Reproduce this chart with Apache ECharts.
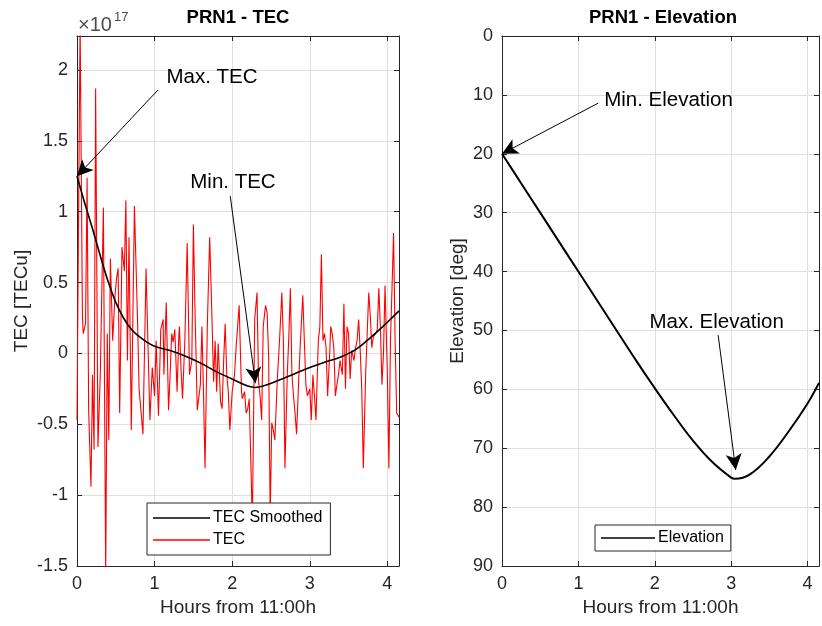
<!DOCTYPE html>
<html>
<head>
<meta charset="utf-8">
<title>PRN1 - TEC / Elevation</title>
<script src="https://cdn.jsdelivr.net/npm/echarts@6/dist/echarts.min.js"></script>
<style>
  html, body { margin: 0; padding: 0; background: #ffffff; }
  #chart { width: 822px; height: 626px; }
</style>
</head>
<body>
<div id="chart"></div>
<script>
// Raw TEC samples (units of 1e17 TECu) against hours from 11:00h
const tecHours = [
  0.00, 0.04, 0.07, 0.08, 0.11, 0.13, 0.15, 0.18, 0.20, 0.22,
  0.24, 0.27, 0.30, 0.34, 0.37, 0.39, 0.41, 0.43, 0.46, 0.49,
  0.51, 0.53, 0.55, 0.58, 0.61, 0.63, 0.65, 0.67, 0.70, 0.74,
  0.78, 0.80, 0.85, 0.89, 0.92, 0.94, 0.97, 1.00, 1.02, 1.05,
  1.08, 1.11, 1.12, 1.15, 1.18, 1.20, 1.22, 1.24, 1.26, 1.29,
  1.31, 1.32, 1.34, 1.36, 1.39, 1.42, 1.45, 1.48, 1.50, 1.52,
  1.55, 1.59, 1.61, 1.63, 1.65, 1.68, 1.71, 1.74, 1.76, 1.78,
  1.80, 1.82, 1.85, 1.87, 1.89, 1.91, 1.93, 1.95, 1.97, 2.00,
  2.03, 2.05, 2.07, 2.09, 2.12, 2.13, 2.16, 2.18, 2.20, 2.22,
  2.24, 2.26, 2.29, 2.32, 2.34, 2.36, 2.38, 2.40, 2.43, 2.45,
  2.47, 2.49, 2.51, 2.53, 2.55, 2.58, 2.61, 2.64, 2.66, 2.68,
  2.71, 2.73, 2.75, 2.77, 2.79, 2.81, 2.83, 2.86, 2.88, 2.91,
  2.93, 2.95, 2.97, 3.00, 3.02, 3.04, 3.06, 3.08, 3.11, 3.13,
  3.15, 3.17, 3.19, 3.21, 3.23, 3.26, 3.27, 3.29, 3.31, 3.33,
  3.35, 3.37, 3.39, 3.42, 3.44, 3.46, 3.48, 3.50, 3.52, 3.54,
  3.57, 3.59, 3.61, 3.63, 3.65, 3.67, 3.69, 3.72, 3.74, 3.76,
  3.78, 3.80, 3.82, 3.85, 3.87, 3.89, 3.91, 3.93, 3.95, 3.97,
  4.00, 4.02, 4.04, 4.06, 4.08, 4.10, 4.12, 4.15
];
const tecValues = [
  -0.47, 2.35, 0.26, 0.14, 0.21, 1.24, -0.40, -0.94, -0.15, -0.68,
  1.87, -0.66, -0.15, 1.03, -1.55, 0.14, -0.61, 0.67, 0.09, 0.41,
  0.53, 0.60, -0.42, 0.75, 0.58, 1.08, -0.05, 0.82, -0.54, 1.04,
  0.24, -0.25, -0.57, 0.60, -0.05, -0.47, -0.10, -0.30, 0.09, -0.44,
  0.17, 0.24, -0.15, 0.36, -0.40, -0.15, 0.14, 0.08, 0.17, -0.27,
  0.09, 0.19, -0.10, -0.32, 0.09, 0.78, -0.15, -0.05, 0.91, 0.33,
  -0.40, -0.22, 0.19, -0.27, -0.81, 0.20, 0.82, 0.24, -0.20, 0.09,
  -0.27, 0.07, -0.34, -0.39, -0.05, 0.21, -0.15, -0.27, -0.54, -0.27,
  -0.15, 0.04, 0.19, 0.34, -0.27, -0.32, -0.27, -0.42, -0.39, -0.32,
  -0.76, -1.20, 0.24, 0.43, -0.20, -0.30, -0.47, 0.19, 0.34, 0.29,
  -0.03, -1.15, -0.49, -0.54, -0.61, -0.20, 0.09, 0.43, 0.09, -0.81,
  -0.15, 0.12, 0.46, -0.15, -0.30, -0.42, -0.57, -0.15, 0.09, 0.41,
  0.09, -0.22, -0.30, -0.25, -0.47, -0.15, -0.30, -0.47, 0.09, 0.19,
  0.70, 0.09, 0.14, 0.04, -0.30, 0.04, 0.19, 0.14, 0.04, -0.30,
  -0.22, -0.15, -0.05, -0.15, 0.35, -0.25, 0.19, 0.14, -0.18, 0.02,
  -0.05, 0.04, 0.09, 0.24, 0.02, -0.25, -0.81, -0.15, 0.14, 0.43,
  0.26, 0.04, 0.12, 0.14, 0.17, 0.46, 0.19, -0.22, 0.00, 0.48,
  -0.15, -0.81, 0.09, 0.46, 0.85, 0.09, -0.42, -0.45
];

// Smoothed TEC (units of 1e17 TECu)
const smoothHours = [0, 0.1, 0.2, 0.3, 0.4, 0.5, 0.6, 0.7, 0.8, 0.9, 1.0, 1.2, 1.4, 1.6,
  1.8, 2.0, 2.2, 2.3, 2.4, 2.6, 2.8, 3.0, 3.2, 3.4, 3.6, 3.8, 4.0, 4.15];
const smoothValues = [1.25, 1.06, 0.88, 0.69, 0.51, 0.36, 0.25, 0.17, 0.12, 0.08, 0.05, 0.02, -0.02, -0.07,
  -0.13, -0.18, -0.23, -0.24, -0.23, -0.19, -0.145, -0.10, -0.06, -0.025, 0.03, 0.12, 0.22, 0.30];

// Satellite elevation (deg)
const elevHours = [0, 0.25, 0.5, 0.75, 1.0, 1.25, 1.5, 1.75, 2.0, 2.25, 2.5, 2.75, 3.0, 3.05,
  3.25, 3.5, 3.75, 4.0, 4.15];
const elevDeg = [20, 25, 30, 35, 40, 45, 50, 55, 59.8, 64.4, 68.7, 72.3, 75.0, 75.2,
  74.4, 71.4, 67.2, 62.4, 58.9];

// Annotations: label text, label anchor, arrow tail and arrow head (data coordinates)
const tecNotes = [
  { text: 'Max. TEC', label: [1.74, 1.95], tail: [1.045, 1.86], head: [0.0, 1.25] },
  { text: 'Min. TEC', label: [2.01, 1.21], tail: [1.975, 1.11], head: [2.30, -0.21] }
];
const elevNotes = [
  { text: 'Min. Elevation', label: [2.18, 10.9], tail: [1.26, 11.4], head: [0.0, 20.0] },
  { text: 'Max. Elevation', label: [2.81, 48.6], tail: [2.83, 50.8], head: [3.06, 73.7] }
];

const FONT = '"Liberation Sans", Arial, Helvetica, sans-serif';
const INK = '#262626';
const GRID_COLOR = '#dfdfdf';

const zip = (xs, ys) => xs.map((x, i) => [x, ys[i]]);

function bottomAxis(gridIndex) {
  return {
    type: 'value', gridIndex, position: 'bottom',
    min: 0, max: 4.15, interval: 1,
    name: 'Hours from 11:00h', nameLocation: 'middle', nameGap: 32,
    nameTextStyle: { fontSize: 19, color: INK, fontFamily: FONT },
    axisLine: { show: true, onZero: false, lineStyle: { color: INK, width: 1 } },
    axisTick: { show: true, inside: true, length: 5, lineStyle: { color: INK } },
    axisLabel: { color: INK, fontSize: 18, fontFamily: FONT, margin: 9,
      formatter: v => (Math.abs(v - Math.round(v)) < 1e-6 ? String(Math.round(v)) : '') },
    splitLine: { show: true, lineStyle: { color: GRID_COLOR, width: 1 } }
  };
}
function topAxis(gridIndex) {
  return {
    type: 'value', gridIndex, position: 'top',
    min: 0, max: 4.15, interval: 1,
    axisLine: { show: true, onZero: false, lineStyle: { color: INK, width: 1 } },
    axisTick: { show: true, inside: true, length: 5, lineStyle: { color: INK } },
    axisLabel: { show: false },
    splitLine: { show: false }
  };
}
function sideAxis(gridIndex, position, extra) {
  return Object.assign({
    type: 'value', gridIndex, position,
    axisLine: { show: true, onZero: false, lineStyle: { color: INK, width: 1 } },
    axisTick: { show: true, inside: true, length: 5, lineStyle: { color: INK } },
    axisLabel: { show: false },
    splitLine: { show: false }
  }, extra);
}

function noteSeries(notes, xIdx, yIdx) {
  return {
    type: 'line', xAxisIndex: xIdx, yAxisIndex: yIdx,
    data: notes.map(n => n.head), symbol: 'none', clip: false,
    lineStyle: { opacity: 0 }, silent: true, z: 5,
    markLine: {
      silent: true, animation: false,
      symbol: ['none', 'arrow'], symbolSize: [12, 16],
      lineStyle: { color: '#000000', width: 1, type: 'solid' },
      label: { show: false },
      emphasis: { disabled: true },
      data: notes.map(n => [{ coord: n.tail }, { coord: n.head }])
    },
    markPoint: {
      silent: true, animation: false,
      symbol: 'rect', symbolSize: 1,
      itemStyle: { color: 'rgba(0,0,0,0)' },
      label: { show: true, position: 'inside', color: '#000000', fontSize: 20.5, fontFamily: FONT,
        formatter: p => p.name },
      data: notes.map(n => ({ name: n.text, coord: n.label }))
    }
  };
}

function legendBox(names, left, top, itemWidth, padding) {
  return {
    data: names.map(n => ({ name: n, icon: 'rect' })),
    left, top, orient: 'vertical',
    itemWidth, itemHeight: 1.6, itemGap: 4,
    padding,
    backgroundColor: '#ffffff', borderColor: INK, borderWidth: 1, borderRadius: 0,
    textStyle: { fontSize: 16, lineHeight: 18, color: '#000000', fontFamily: FONT, padding: [0, 0, 0, -2] },
    selectedMode: false, z: 10
  };
}

const chart = echarts.init(document.getElementById('chart'), null, { renderer: 'canvas' });

chart.setOption({
  animation: false,
  backgroundColor: '#ffffff',
  textStyle: { fontFamily: FONT },
  grid: [
    { left: 77, top: 36, width: 322, height: 530, containLabel: false },
    { left: 502, top: 36, width: 322.5, height: 530, containLabel: false }
  ],
  xAxis: [bottomAxis(0), topAxis(0), bottomAxis(1), topAxis(1)],
  yAxis: [
    sideAxis(0, 'left', {
      min: -1.5, max: 2.24, interval: 0.5,
      name: 'TEC [TECu]', nameLocation: 'middle', nameGap: 46, nameRotate: 90,
      nameTextStyle: { fontSize: 19, color: INK, fontFamily: FONT },
      axisLabel: { show: true, color: INK, fontSize: 18, fontFamily: FONT, margin: 9,
        formatter: v => (Math.abs(v * 2 - Math.round(v * 2)) < 1e-6 ? String(v) : '') },
      splitLine: { show: true, lineStyle: { color: GRID_COLOR, width: 1 } }
    }),
    sideAxis(0, 'right', { min: -1.5, max: 2.24, interval: 0.5 }),
    sideAxis(1, 'left', {
      min: 0, max: 90, interval: 10, inverse: true,
      name: 'Elevation [deg]', nameLocation: 'middle', nameGap: 35, nameRotate: 90,
      nameTextStyle: { fontSize: 19, color: INK, fontFamily: FONT },
      axisLabel: { show: true, color: INK, fontSize: 18, fontFamily: FONT, margin: 9 },
      splitLine: { show: true, lineStyle: { color: GRID_COLOR, width: 1 } }
    }),
    sideAxis(1, 'right', { min: 0, max: 90, interval: 10, inverse: true })
  ],
  legend: [
    legendBox(['TEC Smoothed', 'TEC'], 147, 503, 57, [6, 8, 6, 6]),
    legendBox(['Elevation'], 595, 525, 54, [4, 7, 4, 6])
  ],
  series: [
    {
      name: 'TEC', type: 'line', xAxisIndex: 0, yAxisIndex: 0,
      data: zip(tecHours, tecValues),
      symbol: 'none', smooth: false, clip: true,
      lineStyle: { color: '#ff0000', width: 1.1 },
      itemStyle: { color: '#ff0000' },
      z: 2
    },
    {
      name: 'TEC Smoothed', type: 'line', xAxisIndex: 0, yAxisIndex: 0,
      data: zip(smoothHours, smoothValues),
      symbol: 'none', smooth: 0.4, clip: true,
      lineStyle: { color: '#000000', width: 1.6 },
      itemStyle: { color: '#000000' },
      z: 3
    },
    {
      name: 'Elevation', type: 'line', xAxisIndex: 2, yAxisIndex: 2,
      data: zip(elevHours, elevDeg),
      symbol: 'none', smooth: 0.4, clip: true,
      lineStyle: { color: '#000000', width: 2 },
      itemStyle: { color: '#000000' },
      z: 3
    },
    noteSeries(tecNotes, 0, 0),
    noteSeries(elevNotes, 2, 2)
  ],
  graphic: [
    { type: 'text', x: 238, y: 18, style: { text: 'PRN1 - TEC', font: 'bold 18.5px ' + FONT, fill: '#000000', align: 'center', verticalAlign: 'middle' } },
    { type: 'text', x: 663, y: 18, style: { text: 'PRN1 - Elevation', font: 'bold 18.5px ' + FONT, fill: '#000000', align: 'center', verticalAlign: 'middle' } },
    { type: 'text', x: 78, y: 25, style: { text: '×10', font: '20px ' + FONT, fill: '#4d4d4d', align: 'left', verticalAlign: 'middle' } },
    { type: 'text', x: 114, y: 17, style: { text: '17', font: '13px ' + FONT, fill: '#4d4d4d', align: 'left', verticalAlign: 'middle' } }
  ]
});
</script>
</body>
</html>
